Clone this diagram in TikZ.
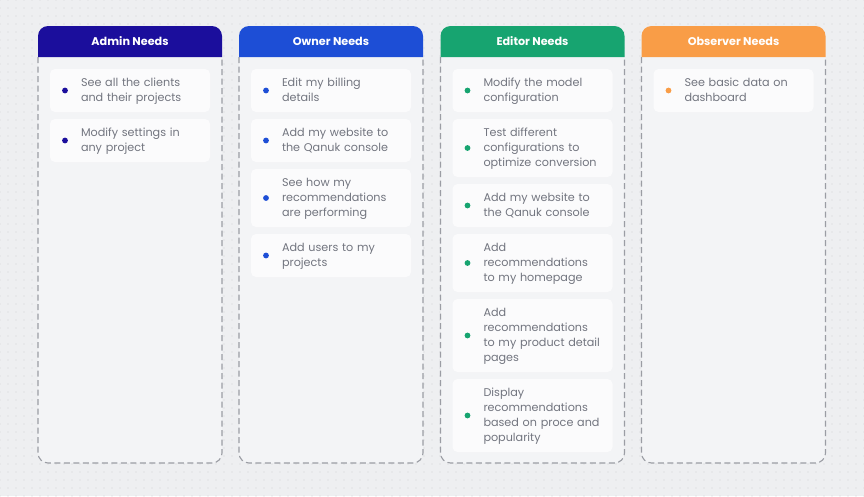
\documentclass[tikz,border=0pt]{standalone}
\usepackage{fontspec}
\setmainfont{Poppins}
\usepackage{xcolor}
\usepackage{tikz}
\usetikzlibrary{positioning,backgrounds,patterns.meta}
\definecolor{cBg}{HTML}{EEEFF1}
\definecolor{cDots}{HTML}{D0D2D6}
\definecolor{cBody}{HTML}{F3F4F6}
\definecolor{cCard}{HTML}{FBFBFC}
\definecolor{cEdge}{HTML}{9B9DA4}
\definecolor{cText}{HTML}{72757F}
\definecolor{cAdmin}{HTML}{1B0E9C}
\definecolor{cOwner}{HTML}{1D4ED6}
\definecolor{cEditor}{HTML}{17A470}
\definecolor{cObserver}{HTML}{F99D47}
\tikzset{
  colhead/.style={minimum width=184pt, minimum height=31pt, inner sep=0pt, outer sep=0pt,
                  text=white, font=\fontsize{11.2}{13}\selectfont\bfseries},
  colbody/.style={minimum width=184pt, minimum height=406pt, inner sep=0pt, outer sep=0pt},
  card/.style={fill=cCard, rounded corners=5pt, text width=160pt, inner xsep=0pt, inner ysep=6.5pt,
               outer sep=0pt, align=left, text=cText, font=\fontsize{11.2}{15}\selectfont,
               execute at begin node={\leftskip=31pt\relax\strut}, execute at end node=\strut,
               path picture={\fill[#1] ([xshift=15pt]path picture bounding box.west) circle (2.9pt);}},
  edge/.style={draw=cEdge, line width=1.1pt, dash pattern=on 6pt off 3.5pt}
}

\begin{document}
\begin{tikzpicture}[x=1pt, y=-1pt, node distance=7pt]
\useasboundingbox (0,0) rectangle (864,496);
% columns
\node[colhead] (adminH) at (130,41.5) {Admin Needs};
\node[colbody, below=0pt of adminH] (adminB) {};
\node[colhead] (ownerH) at (331,41.5) {Owner Needs};
\node[colbody, below=0pt of ownerH] (ownerB) {};
\node[colhead] (editorH) at (532.5,41.5) {Editor Needs};
\node[colbody, below=0pt of editorH] (editorB) {};
\node[colhead] (observerH) at (733.5,41.5) {Observer Needs};
\node[colbody, below=0pt of observerH] (observerB) {};
% admin
\node[card=cAdmin, below=12pt of adminH] (admin1) {See all the clients\\and their projects};
\node[card=cAdmin, below=of admin1] (admin2) {Modify settings in\\any project};
% owner
\node[card=cOwner, below=12pt of ownerH] (owner1) {Edit my billing\\details};
\node[card=cOwner, below=of owner1] (owner2) {Add my website to\\the Qanuk console};
\node[card=cOwner, below=of owner2] (owner3) {See how my\\recommendations\\are performing};
\node[card=cOwner, below=of owner3] (owner4) {Add users to my\\projects};
% editor
\node[card=cEditor, below=12pt of editorH] (editor1) {Modify the model\\configuration};
\node[card=cEditor, below=of editor1] (editor2) {Test different\\configurations to\\optimize conversion};
\node[card=cEditor, below=of editor2] (editor3) {Add my website to\\the Qanuk console};
\node[card=cEditor, below=of editor3] (editor4) {Add\\recommendations\\to my homepage};
\node[card=cEditor, below=of editor4] (editor5) {Add\\recommendations\\to my product detail\\pages};
\node[card=cEditor, below=of editor5] (editor6) {Display\\recommendations\\based on proce and\\popularity};
% observer
\node[card=cObserver, below=12pt of observerH] (observer1) {See basic data on\\dashboard};
% backdrop
\begin{scope}[on background layer]
\fill[cBg] (0,0) rectangle (864,496);
\fill[pattern={Dots[radius=0.55pt, distance=8pt]}, pattern color=cDots] (0,0) rectangle (864,496);
\foreach \col/\clr in {admin/cAdmin, owner/cOwner, editor/cEditor, observer/cObserver} {
  \filldraw[fill=cBody, edge] (\col H.south west) {[rounded corners=10pt] -- (\col B.south west) -- (\col B.south east)} -- (\col H.south east);
  \fill[\clr] (\col H.south west) {[rounded corners=10pt] -- (\col H.north west) -- (\col H.north east)} -- (\col H.south east) -- cycle;
}
\end{scope}
\end{tikzpicture}
\end{document}
